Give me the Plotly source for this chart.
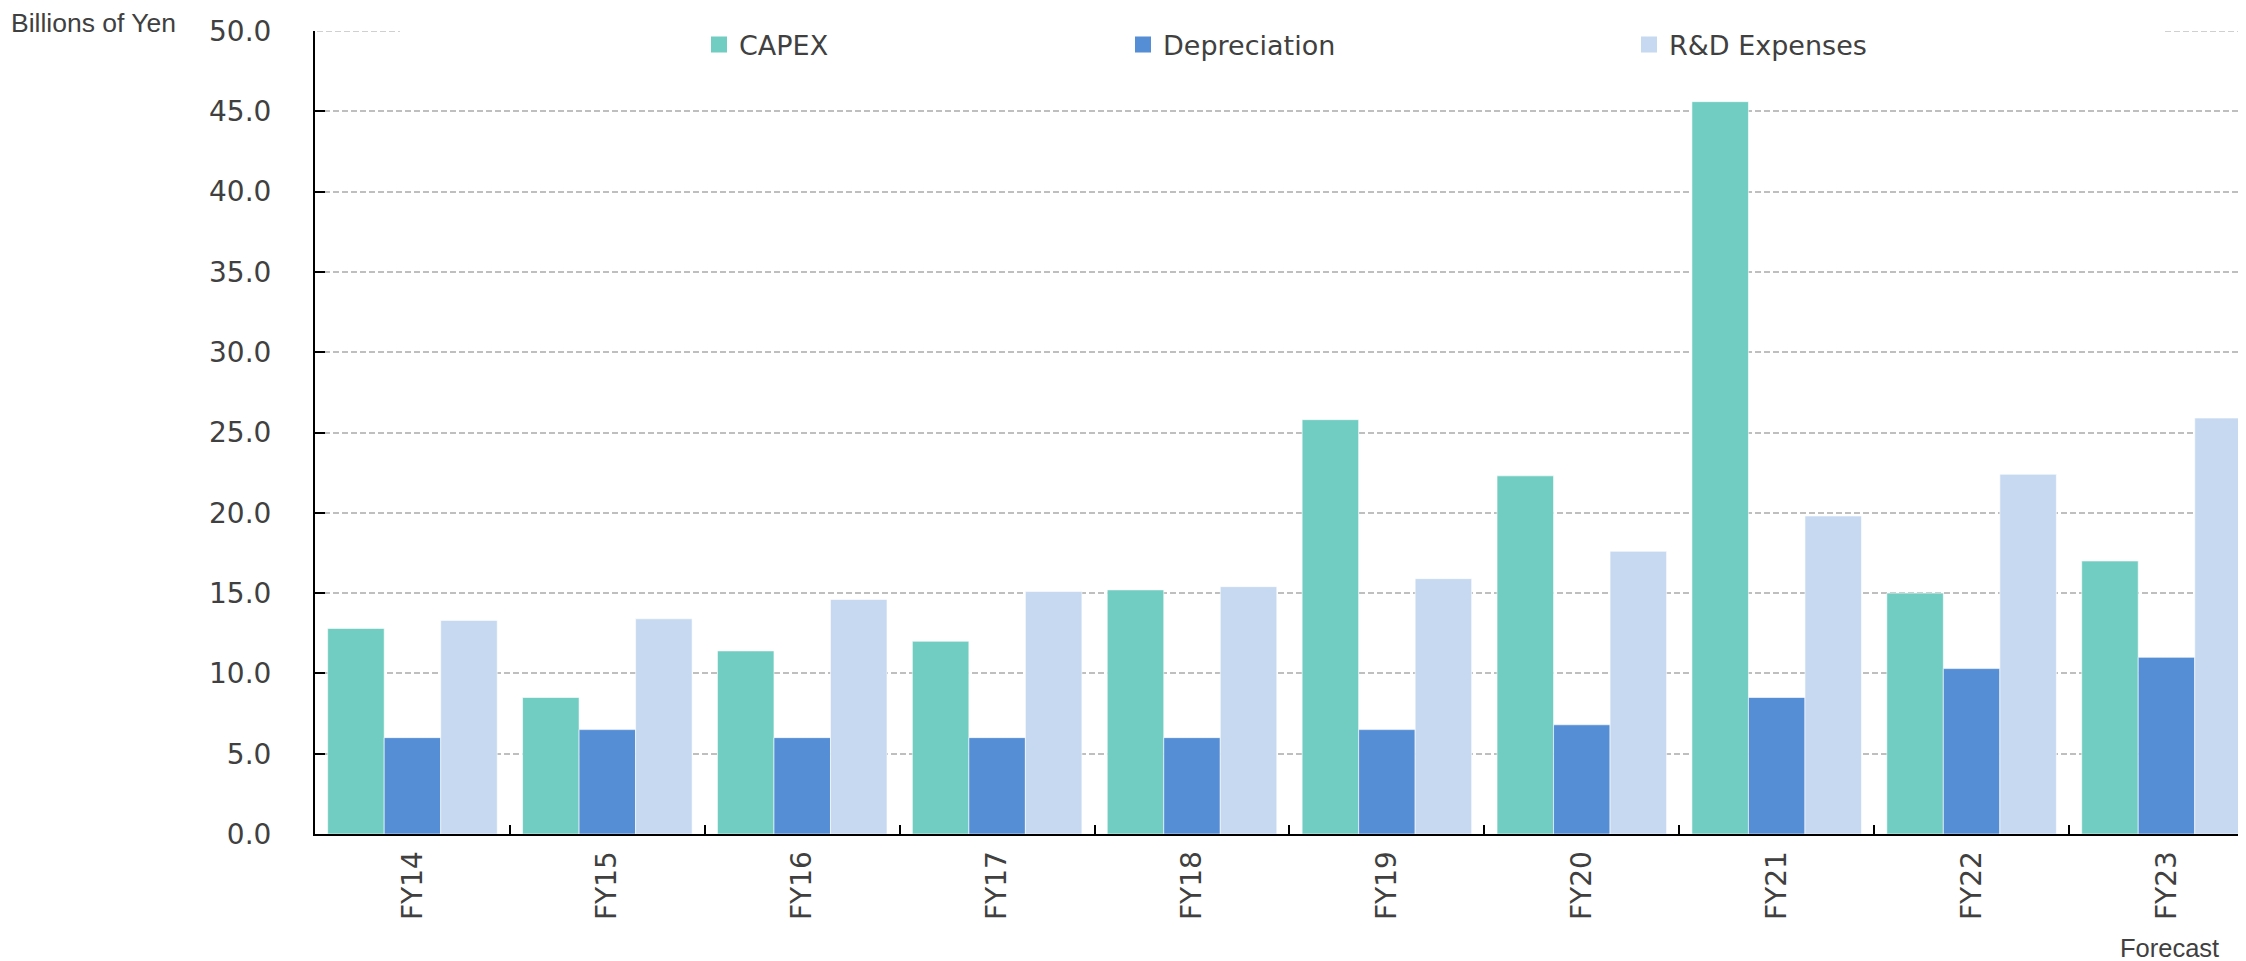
import plotly.graph_objects as go

categories = ["FY14", "FY15", "FY16", "FY17", "FY18", "FY19", "FY20", "FY21", "FY22", "FY23"]
capex = [12.8, 8.5, 11.4, 12.0, 15.2, 25.8, 22.3, 45.6, 15.0, 17.0]
depreciation = [6.0, 6.5, 6.0, 6.0, 6.0, 6.5, 6.8, 8.5, 10.3, 11.0]
rnd = [13.3, 13.4, 14.6, 15.1, 15.4, 15.9, 17.6, 19.8, 22.4, 25.9]
series_names = ["CAPEX", "Depreciation", "R&D Expenses"]
colors = ["#71CDC1", "#558ED5", "#C6D9F1"]
y_ticks = [0, 5, 10, 15, 20, 25, 30, 35, 40, 45, 50]

# page body has an 8px margin; figure sized so plot area lands where the reference has it
W, H = 2238, 953
L, R, T, B = 307, 0, 23, 127
PW, PH = W - L - R, H - T - B

def px_x(sx):  # screen x -> paper x
    return (sx - 8 - L) / PW

def px_y(sy):  # screen y -> paper y
    return (H - B - (sy - 8)) / PH

TXT = "#404040"
GRID = "#BFBFBF"
fig = go.Figure()
for name, vals, col in zip(series_names, [capex, depreciation, rnd], colors):
    fig.add_trace(go.Bar(x=categories, y=vals, name=name, marker_color=col,
                         marker_line_color="rgba(255,255,255,0.6)", marker_line_width=1,
                         showlegend=False))

legend_names = ["legend", "legend2", "legend3"]
legend_px = [712, 1136, 1642]
for name, col, lg in zip(series_names, colors, legend_names):
    fig.add_trace(go.Scatter(x=[None], y=[None], mode="markers", name=name,
                             marker=dict(symbol="square", size=16, color=col),
                             legend=lg, showlegend=True))

leg_common = dict(orientation="h", bgcolor="rgba(255,255,255,0)", borderwidth=0,
                  font=dict(family="DejaVu Sans", size=27, color=TXT),
                  xanchor="left", yanchor="middle", itemsizing="trace")
lay = {}
for lg, lx in zip(legend_names, legend_px):
    lay[lg] = dict(leg_common, x=px_x(lx - 13), y=px_y(45))

top = y_ticks[-1]
shapes = [
    dict(type="rect", xref="paper", yref="paper", x0=px_x(400), x1=px_x(2165),
         y0=px_y(36), y1=px_y(25), fillcolor="white", line_width=0, layer="between"),
    dict(type="line", xref="paper", yref="y", x0=px_x(317), x1=px_x(400), y0=top, y1=top,
         line=dict(color="#D0D0D0", width=2, dash="6px,3px"), layer="between"),
    dict(type="line", xref="paper", yref="y", x0=px_x(2165), x1=1, y0=top, y1=top,
         line=dict(color="#D0D0D0", width=2, dash="6px,3px"), layer="between"),
]

fig.update_layout(
    width=W, height=H, autosize=False,
    margin=dict(l=L, r=R, t=T, b=B, pad=0),
    paper_bgcolor="white", plot_bgcolor="white",
    barmode="group", bargap=0.13, bargroupgap=0,
    font=dict(family="DejaVu Sans", color=TXT),
    xaxis=dict(type="category", range=[-0.5, 9.408], showline=True, linecolor="black",
               linewidth=2, ticks="inside", tickson="boundaries", ticklen=9, tickwidth=2,
               tickcolor="black", tickangle=-90, showgrid=False,
               tickfont=dict(family="DejaVu Sans", size=28, color=TXT),
               ticklabelstandoff=4),
    yaxis=dict(range=[0, 50], tickvals=y_ticks, tickformat=".1f", showline=True,
               linecolor="black", linewidth=2, ticks="inside", ticklen=10, tickwidth=2,
               tickcolor="black", showgrid=True, gridcolor=GRID, gridwidth=2,
               griddash="6px,3px", zeroline=False,
               tickfont=dict(family="DejaVu Sans", size=28, color=TXT),
               ticklabelstandoff=36),
    shapes=shapes,
    annotations=[
        dict(text="Billions of Yen", xref="paper", yref="paper", x=px_x(9), y=px_y(23),
             xanchor="left", yanchor="middle", showarrow=False,
             font=dict(family="Liberation Sans", size=26.5, color=TXT)),
        dict(text="Forecast", xref="paper", yref="paper", x=px_x(2118), y=px_y(948),
             xanchor="left", yanchor="middle", showarrow=False,
             font=dict(family="Liberation Sans", size=25.5, color=TXT)),
    ],
    **lay,
)

fig.write_html("out.html")
